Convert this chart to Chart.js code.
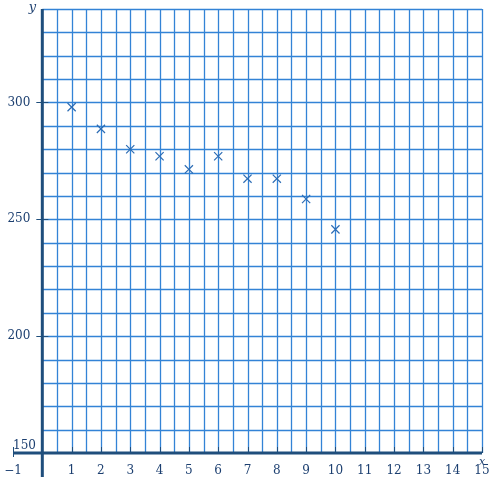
<!DOCTYPE html>
<html lang="en">
<head>
  <meta charset="UTF-8">
  <title>Scatter on grid</title>
  <script src="https://cdn.jsdelivr.net/npm/chart.js"></script>
  <style>
    html, body { margin: 0; padding: 0; background: #fff; }
    #wrap { width: 496px; height: 485px; }
  </style>
</head>
<body>
  <div id="wrap"><canvas id="gridChart"></canvas></div>

  <script>
    // data
    const xValues = [1, 2, 3, 4, 5, 6, 7, 8, 9, 10];
    const yValues = [298, 288.7, 280, 277, 271.4, 277, 267.4, 267.4, 258.7, 245.7];

    const xTickLabels = [-1, 1, 2, 3, 4, 5, 6, 7, 8, 9, 10, 11, 12, 13, 14, 15];
    const yTickLabels = [300, 250, 200];

    const X_MIN = -1, X_MAX = 15, Y_MIN = 150, Y_MAX = 340;
    const GRID = '#3383d6';
    const AXIS = '#1f4e7c';
    const TEXT = '#1c3f70';
    const FONT = '12px "DejaVu Serif", serif';

    const gridPlugin = {
      id: 'paperGrid',
      beforeDatasetsDraw(chart) {
        const { ctx } = chart;
        const xs = chart.scales.x, ys = chart.scales.y;
        const px = v => xs.getPixelForValue(v);
        const py = v => ys.getPixelForValue(v);
        ctx.save();

        // blue grid, only right of the y axis
        ctx.strokeStyle = GRID;
        ctx.lineWidth = 1.3;
        ctx.beginPath();
        for (let i = 1; i <= 30; i++) {
          const x = Math.round(px(i / 2)) + 0.5;
          ctx.moveTo(x, py(Y_MIN));
          ctx.lineTo(x, py(Y_MAX));
        }
        for (let v = 160; v <= Y_MAX; v += 10) {
          const y = Math.round(py(v)) + 0.5;
          ctx.moveTo(px(0), y);
          ctx.lineTo(px(X_MAX), y);
        }
        ctx.stroke();

        // small ticks
        ctx.strokeStyle = AXIS;
        ctx.lineWidth = 1;
        ctx.beginPath();
        for (let i = 1; i <= X_MAX; i++) {
          const x = Math.round(px(i)) + 0.5;
          ctx.moveTo(x, py(Y_MIN));
          ctx.lineTo(x, py(Y_MIN) - 6);
        }
        const xm = Math.round(px(-1)) + 0.5;
        ctx.moveTo(xm, py(Y_MIN) - 6);
        ctx.lineTo(xm, py(Y_MIN) + 4);
        yTickLabels.forEach(v => {
          const y = Math.round(py(v)) + 0.5;
          ctx.moveTo(px(0) - 6, y);
          ctx.lineTo(px(0) + 6, y);
        });
        ctx.stroke();

        // axes
        ctx.strokeStyle = AXIS;
        ctx.lineWidth = 3;
        ctx.beginPath();
        ctx.moveTo(px(X_MIN), py(Y_MIN));
        ctx.lineTo(px(X_MAX), py(Y_MIN));
        ctx.moveTo(px(0), py(Y_MAX));
        ctx.lineTo(px(0), py(Y_MIN) + 24);
        ctx.stroke();

        // labels
        ctx.fillStyle = TEXT;
        ctx.font = FONT;
        ctx.textBaseline = 'alphabetic';
        ctx.textAlign = 'center';
        xTickLabels.forEach(v => {
          const t = v < 0 ? '\u2212' + Math.abs(v) : String(v);
          ctx.fillText(t, px(v), py(Y_MIN) + 21);
        });
        ctx.textAlign = 'right';
        ctx.textBaseline = 'middle';
        yTickLabels.forEach(v => ctx.fillText(String(v), px(0) - 12, py(v)));
        ctx.textAlign = 'left';
        ctx.textBaseline = 'alphabetic';
        ctx.fillText(String(Y_MIN), px(X_MIN), py(Y_MIN) - 4);

        ctx.font = 'italic 13px "DejaVu Serif", serif';
        ctx.textAlign = 'center';
        ctx.fillText('y', px(0) - 10, py(Y_MAX) + 2);
        ctx.font = 'italic 11px "DejaVu Serif", serif';
        ctx.fillText('x', px(X_MAX), py(Y_MIN) + 12);
        ctx.restore();
      }
    };

    const ctx = document.getElementById('gridChart').getContext('2d');
    new Chart(ctx, {
      type: 'scatter',
      data: {
        datasets: [{
          label: 'y',
          data: xValues.map((x, i) => ({ x: x, y: yValues[i] })),
          pointStyle: 'crossRot',
          pointRadius: 5.8,
          pointBorderWidth: 1.2,
          borderColor: '#2c6cb4',
          backgroundColor: '#2c6cb4'
        }]
      },
      options: {
        animation: false,
        responsive: true,
        maintainAspectRatio: false,
        layout: { padding: { left: 13, right: 14, top: 9, bottom: 32 } },
        plugins: { legend: { display: false }, tooltip: { enabled: false } },
        scales: {
          x: { type: 'linear', min: X_MIN, max: X_MAX, display: false },
          y: { type: 'linear', min: Y_MIN, max: Y_MAX, display: false }
        }
      },
      plugins: [gridPlugin]
    });
  </script>
</body>
</html>
